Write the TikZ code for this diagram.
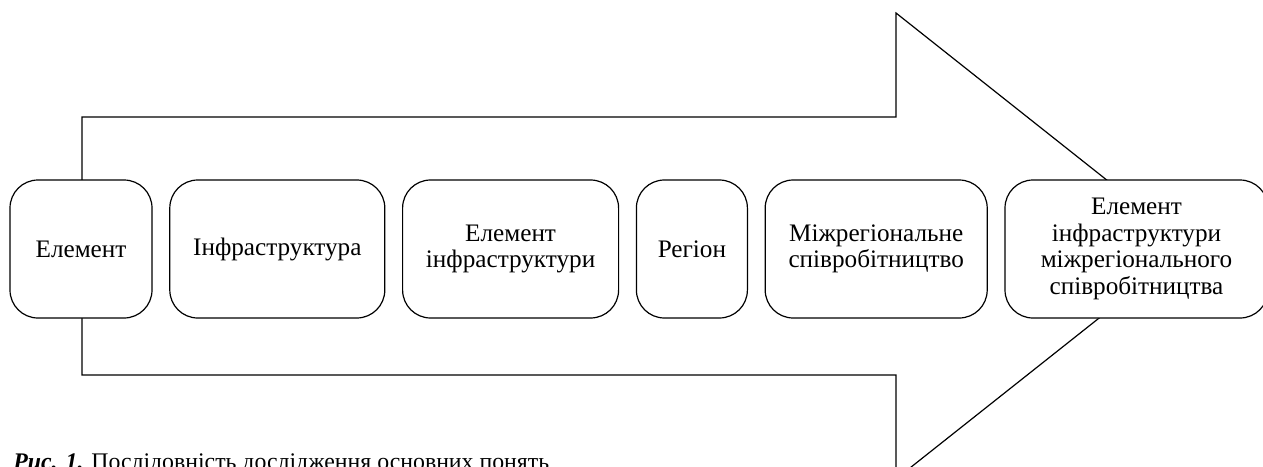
\documentclass[tikz,border=0pt]{standalone}
\usepackage{fontspec}
\setmainfont{Liberation Serif}
\usetikzlibrary{positioning}
\tikzset{
  etap/.style={draw, fill=white, rounded corners=14pt, line width=0.6pt, align=center,
    inner sep=0pt, minimum height=69pt, font=\fontsize{12.6}{13.3}\selectfont},
}
\begin{document}
\begin{tikzpicture}[x=0.5pt, y=-0.5pt, node distance=8.3pt]
  \useasboundingbox (0,0) rectangle (1263,466);
  % strilka
  \draw [line width=0.6pt] (82,249) -- (82,117) -- (896,117) -- (896,13) -- (1190,246)
    -- (896,479) -- (896,375) -- (82,375) -- cycle;

  \node [etap, minimum width=71pt] (el) at (81,249) {Елемент};
  \node [etap, minimum width=107.5pt, right=of el] (infra) {Інфраструктура};
  \node [etap, minimum width=108pt, right=of infra] (elinfra) {Елемент\\інфраструктури};
  \node [etap, minimum width=55.5pt, right=of elinfra] (region) {Регіон};
  \node [etap, minimum width=111pt, right=of region] (mizhreg) {Міжрегіональне\\співробітництво};
  \node [etap, minimum width=131.5pt, right=of mizhreg] (elmizh) {Елемент\\інфраструктури\\міжрегіонального\\співробітництва};

  \node [anchor=base west, inner sep=0pt, font=\fontsize{11.9}{13}\selectfont] (pidpys) at (13,469)
    {\textbf{\textit{Рис. 1.}} Послідовність дослідження основних понять};
\end{tikzpicture}
\end{document}
